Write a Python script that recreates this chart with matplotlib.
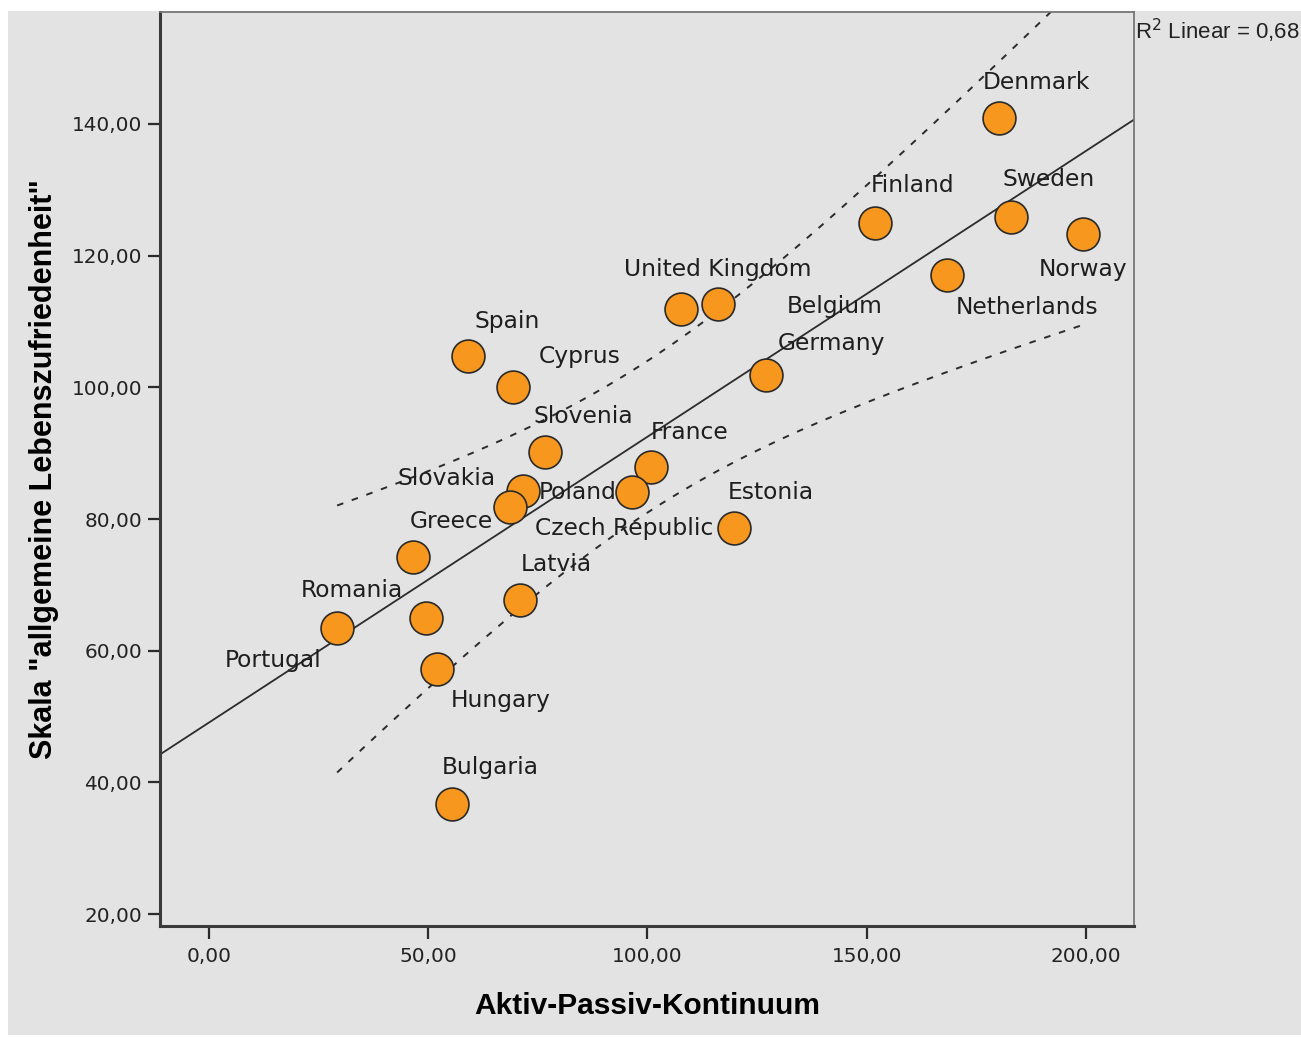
import numpy as np
import matplotlib
matplotlib.use('Agg')
import matplotlib.pyplot as plt
from matplotlib.patches import Rectangle
from matplotlib.ticker import FuncFormatter

# data
countries = ['Denmark', 'Finland', 'Sweden', 'Norway', 'Netherlands', 'United Kingdom',
             'Belgium', 'Germany', 'Spain', 'Cyprus', 'Slovenia', 'France', 'Poland',
             'Czech Republic', 'Slovakia', 'Estonia', 'Greece', 'Latvia', 'Romania',
             'Portugal', 'Hungary', 'Bulgaria']
aktiv = [180.2, 151.9, 182.9, 199.3, 168.3, 107.6, 116.1, 127.0, 59.1, 69.3, 76.6, 100.8,
         71.6, 96.5, 68.6, 119.7, 46.5, 70.9, 49.5, 29.2, 52.0, 55.4]
zufrieden = [140.9, 125.0, 125.9, 123.3, 117.1, 111.9, 112.6, 101.9, 104.7, 100.0, 90.2, 87.9,
             84.2, 84.1, 81.9, 78.6, 74.2, 67.7, 64.9, 63.4, 57.3, 36.8]
# label offsets (pixels, right/down) relative to each point
lab_off = {'Denmark': (37, -36), 'Finland': (38, -37), 'Sweden': (38, -37), 'Norway': (0, 36),
           'Netherlands': (80, 33), 'United Kingdom': (37, -39), 'Belgium': (117, 2),
           'Germany': (66, -31), 'Spain': (39, -35), 'Cyprus': (67, -31), 'Slovenia': (38, -35),
           'France': (39, -35), 'Poland': (55, 1), 'Czech Republic': (-8, 36),
           'Slovakia': (-63, -28), 'Estonia': (37, -36), 'Greece': (38, -36), 'Latvia': (36, -36),
           'Romania': (-74, -28), 'Portugal': (-64, 32), 'Hungary': (64, 32), 'Bulgaria': (38, -36)}

x = np.array(aktiv)
y = np.array(zufrieden)
n = len(x)
b, a = np.polyfit(x, y, 1)
yhat = a + b * x
r2 = 1 - np.sum((y - yhat) ** 2) / np.sum((y - y.mean()) ** 2)
s = np.sqrt(np.sum((y - yhat) ** 2) / (n - 2))
sxx = np.sum((x - x.mean()) ** 2)
t = 3.55  # band width as drawn in the original

W, H = 1301, 1037
fig = plt.figure(figsize=(W / 100, H / 100), dpi=100)
fig.patch.set_facecolor('white')
fig.add_artist(Rectangle((8 / W, 2 / H), 1 - 8 / W, (H - 13) / H, transform=fig.transFigure,
                         facecolor='#e3e3e3', edgecolor='none', zorder=-10))

ax = fig.add_axes([160 / W, 1 - 926 / H, (1134 - 160) / W, (926 - 12) / H])
ax.set_facecolor('#e3e3e3')
ax.set_xlim(-11.2, 211)
ax.set_ylim(18.2, 157.0)

xx = np.linspace(-11.2, 211, 200)
ax.plot(xx, a + b * xx, color='#2b2b2b', lw=1.3, zorder=2)
xp = np.linspace(x.min(), x.max(), 200)
hw = t * s * np.sqrt(1 / n + (xp - x.mean()) ** 2 / sxx)
for sign in (1, -1):
    ax.plot(xp, a + b * xp + sign * hw, color='#2b2b2b', lw=1.4, ls=(0, (3.4, 4.6)), zorder=2)

ax.scatter(x, y, s=560, c='#f7971e', edgecolors='#2a2a2a', linewidths=1.2, zorder=3)

for c, xi, yi in zip(countries, x, y):
    dx, dy = lab_off[c]
    ax.annotate(c, (xi, yi), xytext=(dx * 0.72, -dy * 0.72), textcoords='offset points',
                ha='center', va='center', fontsize=16.8, color='#1e1e1e',
                family='DejaVu Sans', zorder=4)

ax.set_xticks([0, 50, 100, 150, 200])
ax.set_yticks([20, 40, 60, 80, 100, 120, 140])
fmt = FuncFormatter(lambda v, p: '{:.2f}'.format(v).replace('.', ','))
ax.xaxis.set_major_formatter(fmt)
ax.yaxis.set_major_formatter(fmt)
ax.tick_params(direction='out', length=9, width=1.6, color='#2b2b2b', labelsize=14.4,
               labelcolor='#222222', pad=4)
ax.tick_params(axis='x', pad=6)

for side in ('left', 'bottom'):
    ax.spines[side].set_linewidth(2.2)
    ax.spines[side].set_color('#3a3a3a')
for side in ('top', 'right'):
    ax.spines[side].set_linewidth(1.3)
    ax.spines[side].set_color('#777777')

ax.set_xlabel('Aktiv-Passiv-Kontinuum', fontsize=21.5, fontweight='bold',
              family='Liberation Sans', labelpad=19)
ax.set_ylabel('Skala "allgemeine Lebenszufriedenheit"', fontsize=22, fontweight='bold',
              family='Liberation Sans', labelpad=9)

fig.text(1135 / W, 1 - 17 / H, 'R$^2$ Linear = {:.2f}'.format(r2).replace('.', ','),
         ha='left', va='top', fontsize=16, family='Liberation Sans', color='#222222')

fig.savefig('out.png', dpi=100)
